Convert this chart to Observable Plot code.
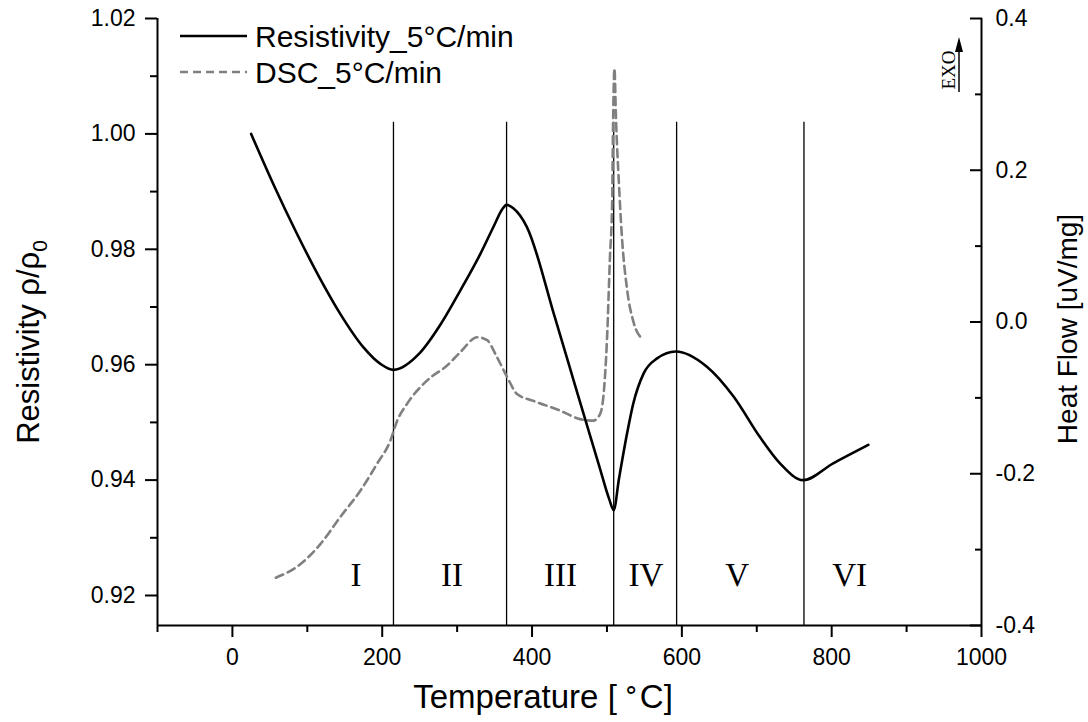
<!DOCTYPE html>
<html>
<head>
<meta charset="utf-8">
<script src="https://cdn.jsdelivr.net/npm/d3@7"></script>
<script src="https://cdn.jsdelivr.net/npm/@observablehq/plot@0.6"></script>
<style>
  html, body { margin: 0; padding: 0; background: #fff; }
  #chart { width: 1088px; height: 722px; position: relative; }
</style>
</head>
<body>
<div id="chart"></div>
<script>
// ---------- data ----------
const resT = [25, 55, 85, 115, 145, 175, 198, 215, 250, 278, 304, 331, 350, 360, 366, 375, 393, 430, 460, 490, 503, 509, 516, 527, 535, 549, 567, 592, 633, 669, 704, 731, 762, 802, 849];
const resV = [1.000, 0.9912, 0.9830, 0.9754, 0.9686, 0.9630, 0.9601, 0.9591, 0.9620, 0.9670, 0.9728, 0.9792, 0.9843, 0.9869, 0.9877, 0.9871, 0.9839, 0.9684, 0.9553, 0.9423, 0.9367, 0.9348, 0.9402, 0.9482, 0.9532, 0.9585, 0.9611, 0.9623, 0.9597, 0.9545, 0.9475, 0.9429, 0.9400, 0.9429, 0.9461];

const dscT = [58, 91, 118, 144, 171, 193, 211, 220, 233, 260, 287, 304, 327, 340, 353, 367, 380, 402, 438, 464, 482, 491, 496, 500, 504, 507, 508, 510, 512, 516, 520, 527, 536, 547];
const dscH = [-0.337, -0.319, -0.292, -0.257, -0.222, -0.187, -0.156, -0.130, -0.108, -0.077, -0.057, -0.040, -0.020, -0.024, -0.046, -0.073, -0.095, -0.104, -0.117, -0.128, -0.130, -0.121, -0.090, -0.024, 0.085, 0.160, 0.248, 0.334, 0.270, 0.182, 0.112, 0.042, -0.002, -0.022];

const boundaries = [215, 366, 509, 593, 763];
const boundaryTop = 1.002;
const regionLabels = ["I", "II", "III", "IV", "V", "VI"];
const regionX = [165, 293, 438, 552, 674, 824];
const regionY = 0.9234;

const xDomain = [-100, 1000];
const yLeftDomain = [0.9148, 1.02];
const yRightDomain = [-0.4, 0.4];
const xTicks = [0, 200, 400, 600, 800, 1000];
const xMinorTicks = [-100, 100, 300, 500, 700, 900];
const leftTicks = [0.92, 0.94, 0.96, 0.98, 1.00, 1.02];
const leftMinorTicks = [0.93, 0.95, 0.97, 0.99, 1.01];
const rightTicks = [-0.4, -0.2, 0, 0.2, 0.4];
const rightMinorTicks = [-0.3, -0.1, 0.1, 0.3];

const seriesNames = ["Resistivity_5°C/min", "DSC_5°C/min"];

// ---------- helpers ----------
const toLeft = h => yLeftDomain[0] + (h - yRightDomain[0]) / (yRightDomain[1] - yRightDomain[0]) * (yLeftDomain[1] - yLeftDomain[0]);
const fromLeft = v => yRightDomain[0] + (v - yLeftDomain[0]) / (yLeftDomain[1] - yLeftDomain[0]) * (yRightDomain[1] - yRightDomain[0]);

const res = resT.map((t, i) => ({t, v: resV[i]}));
const dsc = dscT.map((t, i) => ({t, v: toLeft(dscH[i])}));
const regions = regionLabels.map((l, i) => ({l, t: regionX[i], v: regionY}));

const axisFont = 23;

const plot = Plot.plot({
  width: 1088,
  height: 722,
  marginLeft: 157,
  marginRight: 107,
  marginTop: 18,
  marginBottom: 97,
  style: {fontFamily: "'Liberation Sans', Arial, sans-serif", background: "#fff", overflow: "visible"},
  x: {domain: xDomain, label: null},
  y: {domain: yLeftDomain, label: null},
  marks: [
    Plot.ruleX([xDomain[0], xDomain[1]], {stroke: "#000", strokeWidth: 2}),
    Plot.ruleY([yLeftDomain[0]], {stroke: "#000", strokeWidth: 2}),
    Plot.axisX(xTicks, {anchor: "bottom", tickSize: 12, tickPadding: 11, strokeWidth: 2, fontSize: axisFont, tickFormat: d => String(d), label: null}),
    Plot.axisX(xMinorTicks, {anchor: "bottom", tickSize: 7, strokeWidth: 2, tickFormat: () => "", label: null}),
    Plot.axisY(leftTicks, {anchor: "left", tickSize: 12, tickPadding: 10, strokeWidth: 2, fontSize: axisFont, tickFormat: d => d.toFixed(2), label: null}),
    Plot.axisY(leftMinorTicks, {anchor: "left", tickSize: 7, strokeWidth: 2, tickFormat: () => "", label: null}),
    Plot.axisY(rightTicks.map(toLeft), {anchor: "right", tickSize: 12, dx: -12, strokeWidth: 2, tickFormat: () => "", label: null}),
    Plot.axisY(rightMinorTicks.map(toLeft), {anchor: "right", tickSize: 7, dx: -7, strokeWidth: 2, tickFormat: () => "", label: null}),
    Plot.axisY(rightTicks.map(toLeft), {anchor: "right", tickSize: 0, tickPadding: 14, fontSize: axisFont, tickFormat: d => (Math.round(fromLeft(d) * 10) / 10).toFixed(1), label: null}),
    Plot.ruleX(boundaries, {y1: yLeftDomain[0], y2: boundaryTop, stroke: "#000", strokeWidth: 1.3}),
    Plot.line(dsc, {x: "t", y: "v", curve: "monotone-x", stroke: "#808080", strokeWidth: 2.6, strokeDasharray: "8,5"}),
    Plot.line(res, {x: "t", y: "v", curve: "monotone-x", stroke: "#000", strokeWidth: 2.6}),
    Plot.text(regions, {x: "t", y: "v", text: "l", fontSize: 33, fontFamily: "'Liberation Serif', 'Times New Roman', serif", fill: "#000"})
  ]
});

document.getElementById("chart").appendChild(plot);

// ---------- extra text: titles, legend, EXO ----------
const svg = d3.select(plot);
const g = svg.append("g").attr("fill", "#000");

// x title
const xt = g.append("text").attr("x", 543).attr("y", 708).attr("text-anchor", "middle").attr("font-size", 33);
xt.append("tspan").text("Temperature [");
xt.append("tspan").attr("font-size", 26).attr("dy", -10).attr("dx", 6).text("∘");
xt.append("tspan").attr("dy", 10).attr("dx", 1).text("C]");

// left title
const lt = g.append("text").attr("transform", "translate(39,342) rotate(-90)").attr("text-anchor", "middle").attr("font-size", 31);
lt.append("tspan").text("Resistivity ρ/ρ");
lt.append("tspan").attr("font-size", 21).attr("dy", 8).text("0");

// right title
g.append("text").attr("transform", "translate(1077,329) rotate(-90)").attr("text-anchor", "middle")
  .attr("font-size", 28).text("Heat Flow [uV/mg]");

// legend
const lg = svg.append("g").attr("text-anchor", "start");
lg.append("line").attr("x1", 180).attr("x2", 247).attr("y1", 36).attr("y2", 36).attr("stroke", "#000").attr("stroke-width", 2.6);
lg.append("text").attr("x", 255).attr("y", 47).attr("font-size", 30).text(seriesNames[0]);
lg.append("line").attr("x1", 180).attr("x2", 247).attr("y1", 72).attr("y2", 72).attr("stroke", "#808080").attr("stroke-width", 2.6).attr("stroke-dasharray", "8,5");
lg.append("text").attr("x", 255).attr("y", 83).attr("font-size", 30).text(seriesNames[1]);

// EXO marker
const ex = svg.append("g");
ex.append("text").attr("transform", "translate(955,70) rotate(-90)").attr("text-anchor", "middle")
  .attr("font-family", "'Liberation Serif', 'Times New Roman', serif").attr("font-size", 19).text("EXO");
ex.append("line").attr("x1", 959).attr("x2", 959).attr("y1", 92).attr("y2", 48).attr("stroke", "#000").attr("stroke-width", 1.5);
ex.append("path").attr("d", "M959,37 L955,52 L963,52 Z").attr("fill", "#000");
</script>
</body>
</html>
